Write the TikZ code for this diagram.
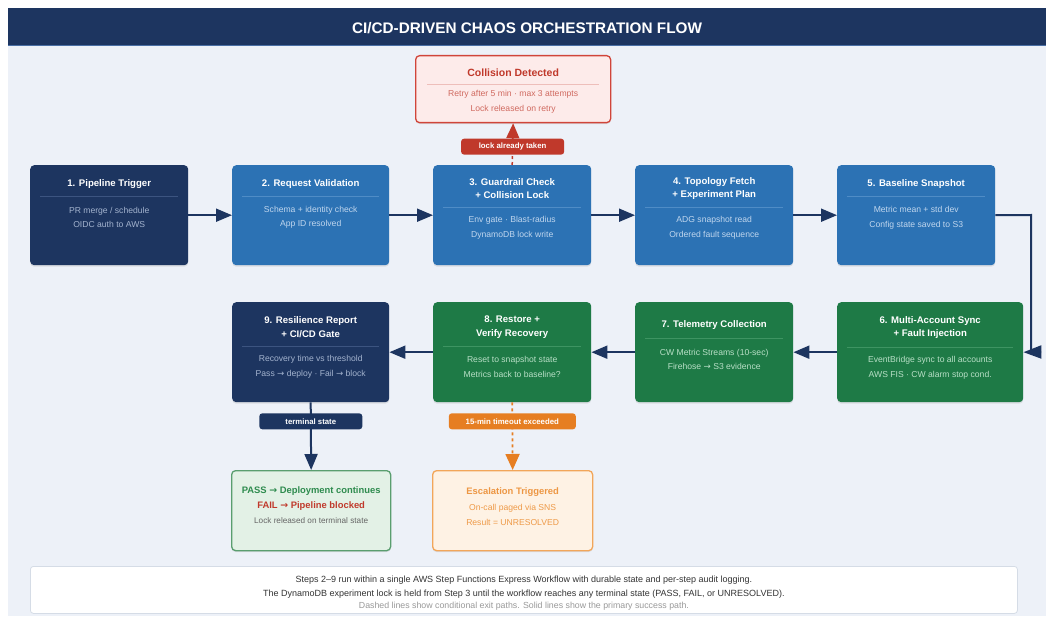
\documentclass[tikz,border=0pt]{standalone}
\usepackage{fontspec}
\setmainfont{Liberation Sans}
\newfontfamily\arr{DejaVu Sans}
\usetikzlibrary{arrows.meta,calc,shadows}
\definecolor{navy}{HTML}{1D3560}
\definecolor{navyline}{HTML}{4A6FA5}
\definecolor{bluec}{HTML}{2C72B4}
\definecolor{greenc}{HTML}{1E7A46}
\definecolor{bgc}{HTML}{EDF1F8}
\definecolor{navytxt}{HTML}{A3B3CE}
\definecolor{bluetxt}{HTML}{C0D6EE}
\definecolor{greentxt}{HTML}{B8DFC6}
\definecolor{navysep}{HTML}{3C5480}
\definecolor{bluesep}{HTML}{4F8CC6}
\definecolor{greensep}{HTML}{3E9462}
\definecolor{redc}{HTML}{C0392B}
\definecolor{redfill}{HTML}{FDEBEA}
\definecolor{redborder}{HTML}{D0453A}
\definecolor{redtxt}{HTML}{D06A60}
\definecolor{orangec}{HTML}{E67E22}
\definecolor{orfill}{HTML}{FEF2E4}
\definecolor{orborder}{HTML}{F2A65A}
\definecolor{ortxt}{HTML}{EE9A48}
\definecolor{passfill}{HTML}{E3F1E6}
\definecolor{passborder}{HTML}{5A9E6F}
\definecolor{passtxt}{HTML}{2E8B4E}
\definecolor{footborder}{HTML}{D5DCE6}
\tikzset{
  card/.style={rounded corners=4pt, anchor=north west, inner sep=0pt,
    drop shadow={shadow xshift=0pt, shadow yshift=-1.5pt, opacity=0.18}},
  ttl/.style={font=\bfseries\fontsize{9.6}{13.5}\selectfont, text=white, align=center, inner sep=0pt},
  body/.style={font=\fontsize{8.6}{14.5}\selectfont, align=center, inner sep=0pt},
  flow/.style={draw=navy, line width=2pt, -{Triangle[length=16pt,width=13pt]}},
  lbl/.style={rounded corners=3pt, text=white, font=\bfseries\fontsize{7.8}{9}\selectfont,
    minimum height=16pt, inner sep=0pt},
}
\begin{document}
\begin{tikzpicture}[x=1pt,y=-1pt]
\useasboundingbox (0,0) rectangle (1048,620);
\fill[white] (0,0) rectangle (1048,620);
\fill[bgc] (8,46) rectangle (1046,616);
\fill[navy] (8,8) rectangle (1046,46);
\draw[navyline, line width=1pt] (8,46) -- (1046,46);
\node[font=\bfseries\fontsize{15.3}{17}\selectfont, text=white] (title) at (527,28) {CI/CD-DRIVEN CHAOS ORCHESTRATION FLOW};

% ---------- row 1 ----------
\node[card, fill=navy, minimum width=158pt, minimum height=100pt] (n1) at (30,165) {};
\node[card, fill=bluec, minimum width=157pt, minimum height=100pt] (n2) at (232,165) {};
\node[card, fill=bluec, minimum width=158pt, minimum height=100pt] (n3) at (433,165) {};
\node[card, fill=bluec, minimum width=158pt, minimum height=100pt] (n4) at (635,165) {};
\node[card, fill=bluec, minimum width=158pt, minimum height=100pt] (n5) at (837,165) {};
% ---------- row 2 ----------
\node[card, fill=navy, minimum width=157pt, minimum height=100pt] (n9) at (232,302) {};
\node[card, fill=greenc, minimum width=158pt, minimum height=100pt] (n8) at (433,302) {};
\node[card, fill=greenc, minimum width=158pt, minimum height=100pt] (n7) at (635,302) {};
\node[card, fill=greenc, minimum width=186pt, minimum height=100pt] (n6) at (837,302) {};

% texts row 1
\node[ttl] (t1) at ($(n1.north)+(0,19)$) {1. Pipeline Trigger};
\draw[navysep, line width=0.6pt] ($(n1.north west)+(10,31)$) -- ($(n1.north east)+(-10,31)$);
\node[body, text=navytxt] (b1) at ($(n1.north)+(0,52.5)$) {PR merge / schedule\\OIDC auth to AWS};

\node[ttl] (t2) at ($(n2.north)+(0,19)$) {2. Request Validation};
\draw[bluesep, line width=0.6pt] ($(n2.north west)+(10,31)$) -- ($(n2.north east)+(-10,31)$);
\node[body, text=bluetxt] (b2) at ($(n2.north)+(0,52.5)$) {Schema + identity check\\App ID resolved};

\node[ttl] (t3) at ($(n3.north)+(0,23.5)$) {3. Guardrail Check\\+ Collision Lock};
\draw[bluesep, line width=0.6pt] ($(n3.north west)+(10,42)$) -- ($(n3.north east)+(-10,42)$);
\node[body, text=bluetxt] (b3) at ($(n3.north)+(0,63)$) {Env gate · Blast-radius\\DynamoDB lock write};

\node[ttl] (t4) at ($(n4.north)+(0,23.5)$) {4. Topology Fetch\\+ Experiment Plan};
\draw[bluesep, line width=0.6pt] ($(n4.north west)+(10,42)$) -- ($(n4.north east)+(-10,42)$);
\node[body, text=bluetxt] (b4) at ($(n4.north)+(0,63)$) {ADG snapshot read\\Ordered fault sequence};

\node[ttl] (t5) at ($(n5.north)+(0,19)$) {5. Baseline Snapshot};
\draw[bluesep, line width=0.6pt] ($(n5.north west)+(10,31)$) -- ($(n5.north east)+(-10,31)$);
\node[body, text=bluetxt] (b5) at ($(n5.north)+(0,53)$) {Metric mean + std dev\\Config state saved to S3};

% texts row 2
\node[ttl] (t9) at ($(n9.north)+(0,25)$) {9. Resilience Report\\+ CI/CD Gate};
\draw[navysep, line width=0.6pt] ($(n9.north west)+(10,44)$) -- ($(n9.north east)+(-10,44)$);
\node[body, text=navytxt] (b9) at ($(n9.north)+(0,65)$) {Recovery time vs threshold\\Pass {\arr →} deploy · Fail {\arr →} block};

\node[ttl] (t8) at ($(n8.north)+(0,25)$) {8. Restore +\\Verify Recovery};
\draw[greensep, line width=0.6pt] ($(n8.north west)+(10,44)$) -- ($(n8.north east)+(-10,44)$);
\node[body, text=greentxt] (b8) at ($(n8.north)+(0,65)$) {Reset to snapshot state\\Metrics back to baseline?};

\node[ttl] (t7) at ($(n7.north)+(0,23.5)$) {7. Telemetry Collection};
\draw[greensep, line width=0.6pt] ($(n7.north west)+(10,36)$) -- ($(n7.north east)+(-10,36)$);
\node[body, text=greentxt] (b7) at ($(n7.north)+(0,57.5)$) {CW Metric Streams (10-sec)\\Firehose {\arr →} S3 evidence};

\node[ttl] (t6) at ($(n6.north)+(0,25.5)$) {6. Multi-Account Sync\\+ Fault Injection};
\draw[greensep, line width=0.6pt] ($(n6.north west)+(10,45)$) -- ($(n6.north east)+(-10,45)$);
\node[body, text=greentxt] (b6) at ($(n6.north)+(0,66)$) {EventBridge sync to all accounts\\AWS FIS · CW alarm stop cond.};

% ---------- collision box ----------
\node[card, fill=redfill, draw=redborder, line width=1.3pt, minimum width=195pt, minimum height=67pt] (coll) at (415,55) {};
\node[font=\bfseries\fontsize{10.5}{12}\selectfont, text=redc, inner sep=0pt] (tc) at ($(coll.north)+(0,18)$) {Collision Detected};
\draw[redborder!35, line width=0.6pt] ($(coll.north west)+(12,29)$) -- ($(coll.north east)+(-12,29)$);
\node[body, text=redtxt] (bc) at ($(coll.north)+(0,47)$) {Retry after 5 min · max 3 attempts\\Lock released on retry};

% ---------- outcome boxes ----------
\node[card, fill=passfill, draw=passborder, line width=1.3pt, minimum width=159pt, minimum height=80pt] (pass) at (231,470) {};
\node[font=\bfseries\fontsize{9.4}{15}\selectfont, align=center, inner sep=0pt] (tp) at ($(pass.north)+(0,28.5)$)
  {\textcolor{passtxt}{PASS {\arr →} Deployment continues}\\\textcolor{redc}{FAIL {\arr →} Pipeline blocked}};
\node[text=black!60, font=\fontsize{8.2}{9}\selectfont, inner sep=0pt] (bp) at ($(pass.north)+(0,51)$) {Lock released on terminal state};

\node[card, fill=orfill, draw=orborder, line width=1.3pt, minimum width=160pt, minimum height=80pt] (esc) at (432,470) {};
\node[font=\bfseries\fontsize{9.4}{11}\selectfont, text=ortxt!90!orangec, inner sep=0pt] (te) at ($(esc.north)+(0,22)$) {Escalation Triggered};
\node[body, text=ortxt] (be) at ($(esc.north)+(0,45)$) {On-call paged via SNS\\Result = UNRESOLVED};

% ---------- connectors ----------
\draw[flow] (n1) -- (n2);
\draw[flow] (n2) -- (n3);
\draw[flow] (n3) -- (n4);
\draw[flow] (n4) -- (n5);
\coordinate (c5) at (1031,215);
\coordinate (c6) at (1041,352);
\draw[navy, line width=2pt] (n5.east) -- (c5) -- (c5 |- n6.east);
\draw[flow, -{Triangle[length=18pt,width=13pt]}] (c6) -- (n6.east);
\draw[flow] (n6) -- (n7);
\draw[flow] (n7) -- (n8);
\draw[flow] (n8) -- (n9);

\draw[redc, line width=1.5pt, dashed, -{Triangle[length=15pt,width=13pt]}] (n3.north) -- (coll.south)
  node[pos=0.44, lbl, fill=redc, minimum width=103pt] (lk) {lock already taken};
\draw[flow] (n9.south) -- (pass.north)
  node[pos=0.28, lbl, fill=navy, minimum width=103pt] (ts) {terminal state};
\draw[orangec, line width=1.8pt, dashed, -{Triangle[length=16pt,width=14pt]}] (n8.south) -- (esc.north)
  node[pos=0.28, lbl, fill=orangec, minimum width=127pt] (to) {15-min timeout exceeded};

% ---------- footer ----------
\node[anchor=north west, fill=white, draw=footborder, line width=0.8pt, rounded corners=3pt,
  minimum width=987pt, minimum height=47pt, inner sep=0pt] (foot) at (30,566) {};
\node[font=\fontsize{9}{13.5}\selectfont, text=black!80, align=center, inner sep=0pt] (f1) at ($(foot.north)+(0,21)$)
  {Steps 2–9 run within a single AWS Step Functions Express Workflow with durable state and per-step audit logging.\\
   The DynamoDB experiment lock is held from Step 3 until the workflow reaches any terminal state (PASS, FAIL, or UNRESOLVED).};
\node[font=\fontsize{8.8}{10}\selectfont, text=black!40, inner sep=0pt] (f2) at ($(foot.north)+(0,40)$)
  {Dashed lines show conditional exit paths. Solid lines show the primary success path.};
\end{tikzpicture}
\end{document}
